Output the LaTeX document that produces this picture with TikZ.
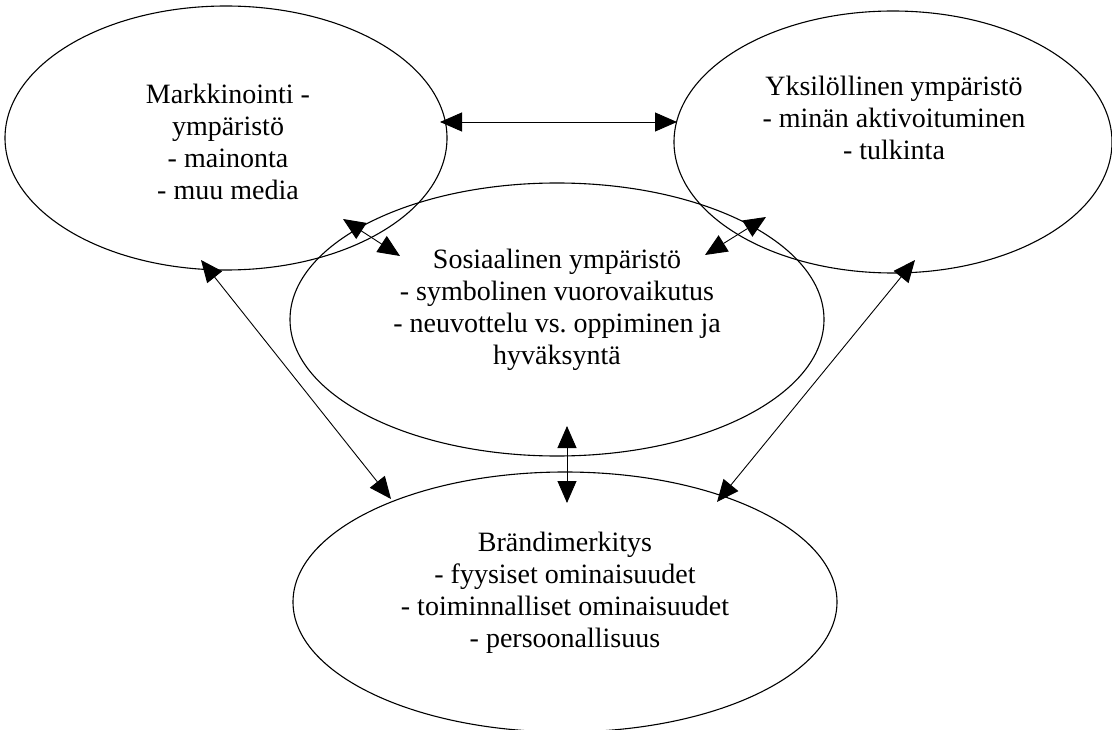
\documentclass[tikz,border=0pt]{standalone}
\usepackage{fontspec}
\setmainfont{Liberation Serif}
\usetikzlibrary{arrows.meta,shapes.geometric}
\frenchspacing

\begin{document}
\begin{tikzpicture}[x=1pt,y=-1pt,
  envbox/.style={draw, ellipse, line width=1.1pt, inner sep=0pt},
  envtext/.style={anchor=north, align=center, inner sep=0pt,
    font=\fontsize{28}{32}\selectfont},
  link/.style={line width=0.9pt,
    {Triangle[length=22pt,width=19pt]}-{Triangle[length=22pt,width=19pt]}}]
  \useasboundingbox (0,0) rectangle (1112,730);

  % the four environments
  \node[envbox, minimum width=442pt, minimum height=264pt] (mk) at (226,138) {};
  \node[envbox, minimum width=438pt, minimum height=262pt] (yk) at (893,142) {};
  \node[envbox, minimum width=534pt, minimum height=273pt] (so) at (557,319.5) {};
  \node[envbox, minimum width=544pt, minimum height=260pt] (br) at (565,602) {};

  % their contents
  \node[envtext] (mkt) at (228,84) {Markkinointi -\\ympäristö\\- mainonta\\- muu media};
  \node[envtext] (ykt) at (894,76) {Yksilöllinen ympäristö\\- minän aktivoituminen\\- tulkinta};
  \node[envtext] (sot) at (557,248.5) {Sosiaalinen ympäristö\\- symbolinen vuorovaikutus\\- neuvottelu vs. oppiminen ja\\hyväksyntä};
  \node[envtext] (brt) at (565,532) {Brändimerkitys\\- fyysiset ominaisuudet\\- toiminnalliset ominaisuudet\\- persoonallisuus};

  % arrow end points
  \coordinate (mkE) at (440,122);
  \coordinate (ykW) at (677,122);
  \coordinate (mkS) at (343,219);
  \coordinate (soNW) at (400,256);
  \coordinate (ykS) at (766,217);
  \coordinate (soNE) at (705,255);
  \coordinate (mkB) at (201,260);
  \coordinate (brNW) at (391,499);
  \coordinate (ykB) at (915,260);
  \coordinate (brNE) at (717,502);
  \coordinate (soS) at (567,426);
  \coordinate (brN) at (567,503);

  % mutual influences
  \draw[link] (mkE) -- (ykW);
  \draw[link] (mkS) -- (soNW);
  \draw[link] (ykS) -- (soNE);
  \draw[link] (mkB) -- (brNW);
  \draw[link] (ykB) -- (brNE);
  \draw[link] (soS) -- (brN);
\end{tikzpicture}
\end{document}
